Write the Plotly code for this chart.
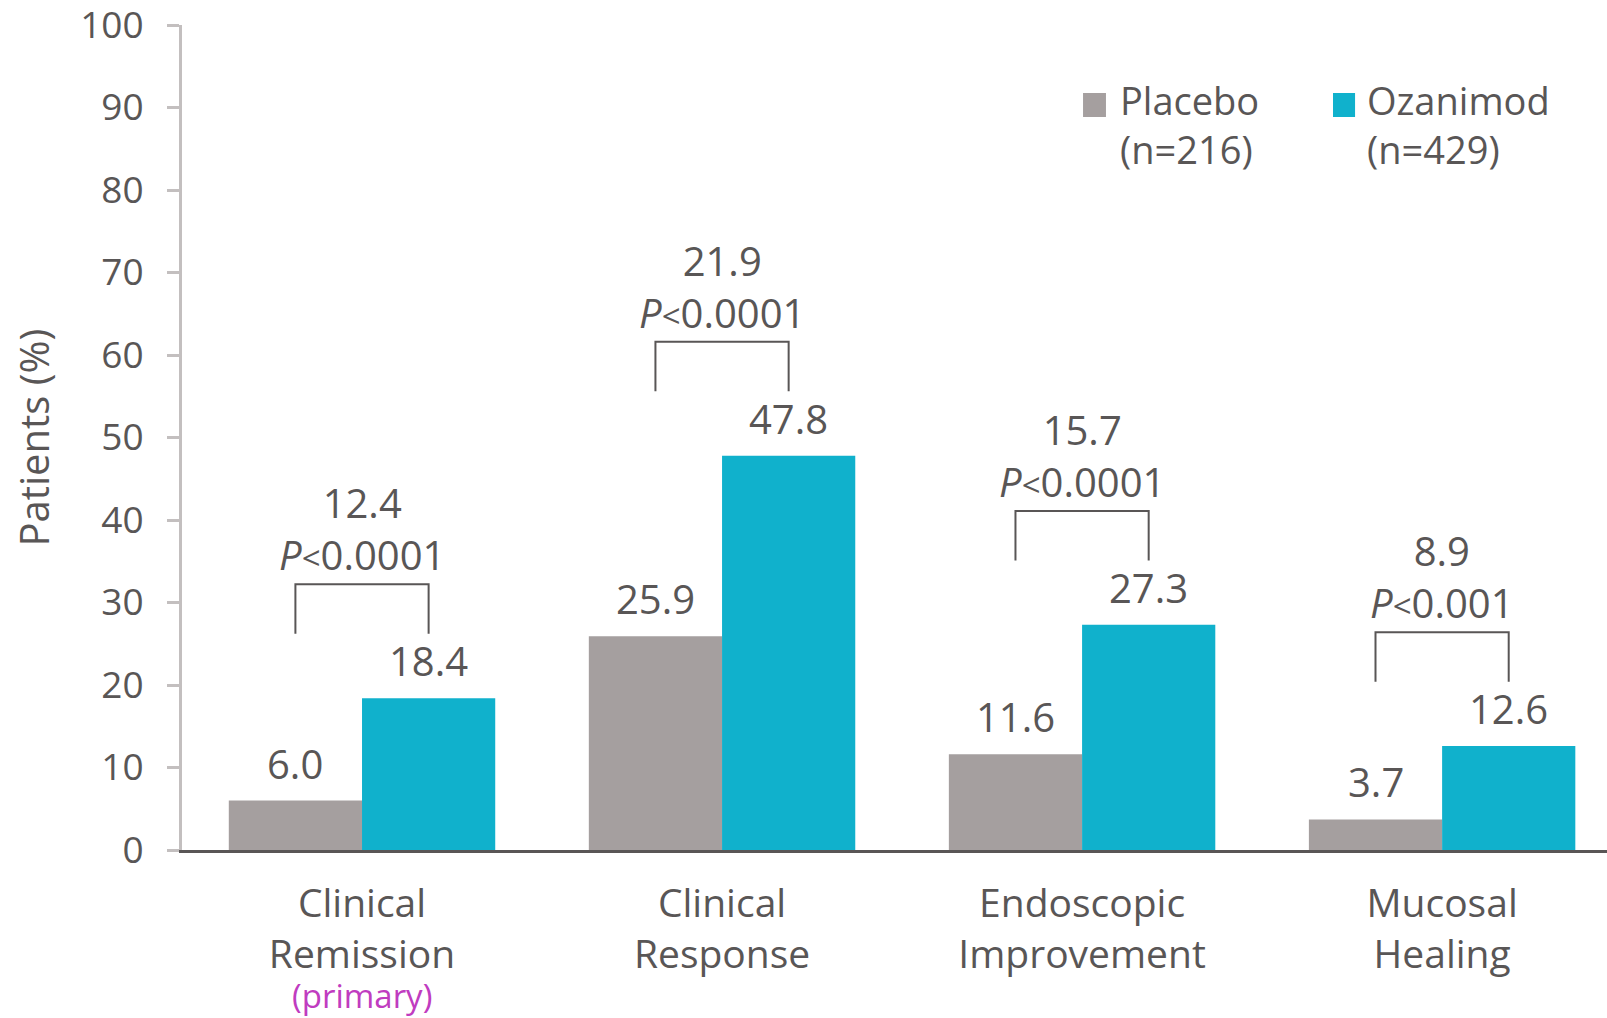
import plotly.graph_objects as go

categories = ["Clinical<br>Remission", "Clinical<br>Response", "Endoscopic<br>Improvement", "Mucosal<br>Healing"]
placebo = [6.0, 25.9, 11.6, 3.7]
ozanimod = [18.4, 47.8, 27.3, 12.6]
differences = ["12.4", "21.9", "15.7", "8.9"]
p_values = ["0.0001", "0.0001", "0.0001", "0.001"]
series_names = ["Placebo<br>(n=216)", "Ozanimod<br>(n=429)"]
y_ticks = [0, 10, 20, 30, 40, 50, 60, 70, 80, 90, 100]

FONT = "Open Sans"
TXT = "#595656"
GREY = "#a59f9f"
TEAL = "#10b1cc"
MAGENTA = "#c03cc0"
FS = 40
OFF = 0.185

x = list(range(len(categories)))

fig = go.Figure()
fig.add_trace(go.Bar(x=x, y=placebo, name="Placebo", marker=dict(color=GREY, line=dict(width=0))))
fig.add_trace(go.Bar(x=x, y=ozanimod, name="Ozanimod", marker=dict(color=TEAL, line=dict(width=0))))

annotations = []
shapes = []
for i in x:
    annotations.append(dict(x=i - OFF, y=placebo[i], xref="x", yref="y", text=f"{placebo[i]:.1f}",
                            showarrow=False, yanchor="bottom", yshift=8,
                            font=dict(family=FONT, size=FS, color=TXT)))
    annotations.append(dict(x=i + OFF, y=ozanimod[i], xref="x", yref="y", text=f"{ozanimod[i]:.1f}",
                            showarrow=False, yanchor="bottom", yshift=8,
                            font=dict(family=FONT, size=FS, color=TXT)))
    yb = ozanimod[i] + 7.8
    yt = ozanimod[i] + 13.8
    shapes.append(dict(type="path", xref="x", yref="y",
                       path=f"M {i-OFF},{yb} L {i-OFF},{yt} L {i+OFF},{yt} L {i+OFF},{yb}",
                       line=dict(color=TXT, width=2)))
    annotations.append(dict(x=i, y=yt, xref="x", yref="y",
                            text=f"{differences[i]}<br><i>P</i><span style='font-size:33px'>&lt;</span>{p_values[i]}",
                            showarrow=False, yanchor="bottom", yshift=0,
                            font=dict(family=FONT, size=FS, color=TXT)))

annotations.append(dict(x=0, y=-0.1765, xref="x", yref="paper", text="(primary)", showarrow=False,
                        yanchor="middle", font=dict(family=FONT, size=33, color=MAGENTA)))

# y-axis title
annotations.append(dict(x=-0.1045, y=0.5, xref="paper", yref="paper", text="Patients (%)", showarrow=False,
                        textangle=-90, xanchor="center", yanchor="middle",
                        font=dict(family=FONT, size=FS, color=TXT)))

# legend
leg = [(0.6323, 0.6484, 0.6565, GREY), (0.8077, 0.8232, 0.8305, TEAL)]
for (x0, x1, xt, col), name in zip(leg, series_names):
    shapes.append(dict(type="rect", xref="paper", yref="paper", x0=x0, x1=x1, y0=0.8885, y1=0.9176,
                       fillcolor=col, line=dict(width=0)))
    annotations.append(dict(x=xt, y=0.943, xref="paper", yref="paper", text=name, showarrow=False,
                            xanchor="left", yanchor="top", align="left",
                            font=dict(family=FONT, size=38, color=TXT)))

fig.update_layout(
    width=1607, height=1018,
    margin=dict(l=182, r=0, t=25, b=168),
    paper_bgcolor="white", plot_bgcolor="white",
    barmode="group", bargap=0.26, bargroupgap=0,
    showlegend=False,
    font=dict(family=FONT, size=FS, color=TXT),
    annotations=annotations, shapes=shapes,
    xaxis=dict(range=[-0.5, 3.458], tickvals=x, ticktext=categories, showgrid=False, zeroline=False,
               automargin=False,
               showline=True, linecolor=TXT, linewidth=3, ticks="", ticklabelstandoff=17,
               tickfont=dict(family=FONT, size=39, color=TXT)),
    yaxis=dict(range=[0, 100], tickvals=y_ticks, showgrid=False, zeroline=False,
               automargin=False,
               showline=True, linecolor="#c3bfbf", linewidth=3, ticks="outside", ticklen=12,
               tickcolor="#c3bfbf", tickwidth=3, ticklabelstandoff=16, ticklabeloverflow="allow",
               tickfont=dict(family=FONT, size=37, color=TXT)),
)

fig.write_html("out.html")
